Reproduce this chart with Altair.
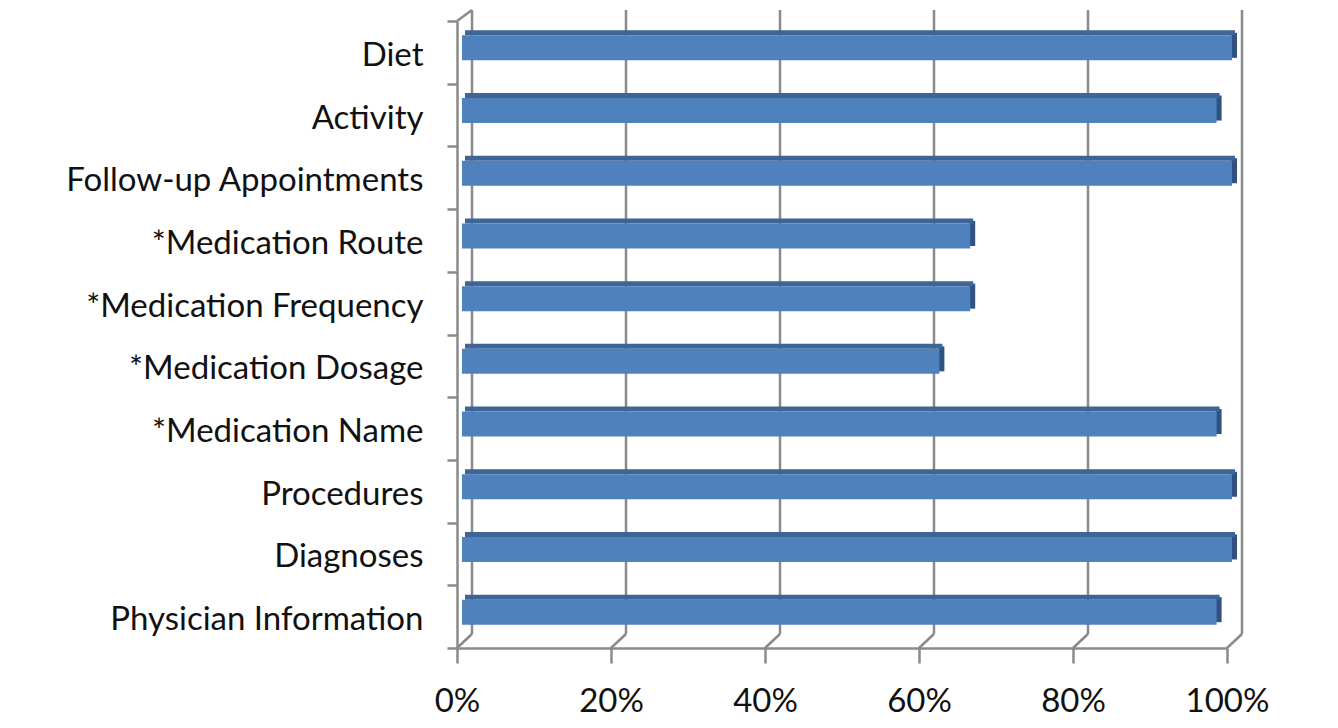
import altair as alt
import pandas as pd

categories = [
    "Diet",
    "Activity",
    "Follow-up Appointments",
    "*Medication Route",
    "*Medication Frequency",
    "*Medication Dosage",
    "*Medication Name",
    "Procedures",
    "Diagnoses",
    "Physician Information",
]
values = [1.00, 0.98, 1.00, 0.66, 0.66, 0.62, 0.98, 1.00, 1.00, 0.98]
tick_values = [0.0, 0.2, 0.4, 0.6, 0.8, 1.0]

df = pd.DataFrame({"category": categories, "value": values, "zero": [0.0] * len(values)})
grid = pd.DataFrame({"tick": tick_values})

FONT = "Lato"
GRAY = "#8a8a8a"
FRONT = "#4F81BD"
TOP = "#3D6597"
SIDE = "#2F5283"

xscale = alt.Scale(domain=[0, 1], nice=False, zero=True)
yscale = alt.Scale(domain=categories, paddingInner=0, paddingOuter=0)

xaxis = alt.Axis(
    values=tick_values,
    format=".0%",
    grid=False,
    domainColor=GRAY,
    domainWidth=2.5,
    tickColor=GRAY,
    tickWidth=2.5,
    tickSize=15,
    labelPadding=22,
    labelFont=FONT,
    labelFontSize=33,
    labelColor="#111111",
    labelFlush=False,
)
yaxis = alt.Axis(
    grid=False,
    domainColor=GRAY,
    domainWidth=2.5,
    tickColor=GRAY,
    tickWidth=2.5,
    tickSize=10,
    tickBand="extent",
    labelPadding=24,
    labelOffset=3,
    labelFont=FONT,
    labelFontSize=33,
    labelColor="#111111",
    labelLimit=0,
)


def X(field):
    return alt.X(field, scale=xscale, axis=xaxis, title=None)


def Y():
    return alt.Y("category:N", scale=yscale, sort=categories, axis=yaxis, title=None)


# back wall gridlines
back = alt.Chart(grid).mark_rule(color=GRAY, strokeWidth=2.5, xOffset=15).encode(
    x=X("tick:Q"),
    y=alt.value(-11),
    y2=alt.value(613),
)

# floor slants
floor = alt.Chart(grid).mark_rule(color=GRAY, strokeWidth=2.5, x2Offset=15).encode(
    x=X("tick:Q"),
    x2=alt.X2("tick:Q"),
    y=alt.value(627),
    y2=alt.value(613),
)

# top-left wall slant
topleft = alt.Chart(grid).transform_filter("datum.tick == 0").mark_rule(
    color=GRAY, strokeWidth=2.5, x2Offset=15
).encode(
    x=X("tick:Q"),
    x2=alt.X2("tick:Q"),
    y=alt.value(0),
    y2=alt.value(-11),
)

# bar side faces
side = alt.Chart(df).mark_bar(color=SIDE, size=25, yOffset=-7, xOffset=4, x2Offset=10).encode(
    x=X("value:Q"),
    x2=alt.X2("value:Q"),
    y=Y(),
)

# bar top faces
top = alt.Chart(df).mark_bar(color=TOP, size=5, yOffset=-19.5, xOffset=8, x2Offset=8).encode(
    x=X("zero:Q"),
    x2=alt.X2("value:Q"),
    y=Y(),
)

# bar front faces
front = alt.Chart(df).mark_bar(color=FRONT, size=25, yOffset=-4.5, xOffset=5, x2Offset=5).encode(
    x=X("zero:Q"),
    x2=alt.X2("value:Q"),
    y=Y(),
)

chart = (
    alt.layer(back, floor, topleft, side, top, front)
    .properties(
        width=770,
        height=627,
        autosize=alt.AutoSizeParams(type="none"),
        padding={"left": 449, "top": 13, "right": 60, "bottom": 72},
    )
    .configure_view(stroke=None)
)

chart.save("out.html", embed_options={"renderer": "svg", "actions": False})
